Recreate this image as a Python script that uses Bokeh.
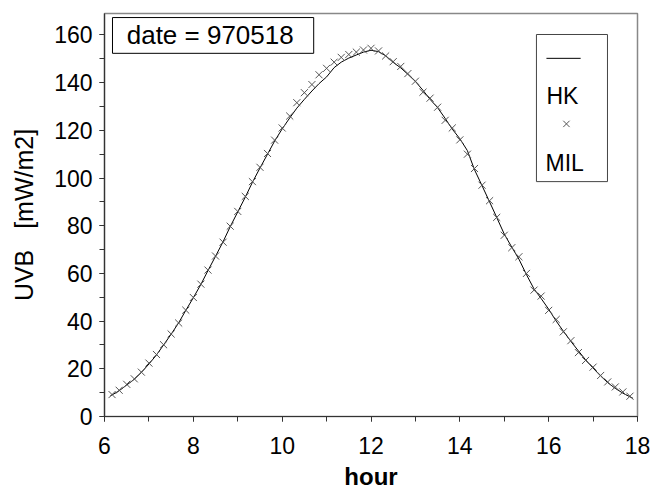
from bokeh.plotting import figure
from bokeh.models import Range1d, SingleIntervalTicker, Label
from bokeh.embed import file_html
from bokeh.resources import INLINE

# ---- data ----
mil_hour = [6.17, 6.33, 6.50, 6.67, 6.83, 7.00, 7.17, 7.33, 7.50, 7.67, 7.83, 8.00,
            8.17, 8.33, 8.50, 8.67, 8.83, 9.00, 9.17, 9.33, 9.50, 9.67, 9.83, 10.00,
            10.17, 10.33, 10.50, 10.67, 10.83, 11.00, 11.17, 11.33, 11.50, 11.67, 11.83, 12.00,
            12.17, 12.33, 12.50, 12.67, 12.83, 13.00, 13.17, 13.33, 13.50, 13.67, 13.83, 14.00,
            14.17, 14.33, 14.50, 14.67, 14.83, 15.00, 15.17, 15.33, 15.50, 15.67, 15.83, 16.00,
            16.17, 16.33, 16.50, 16.67, 16.83, 17.00, 17.17, 17.33, 17.50, 17.67, 17.83]
mil_uvb = [9.2, 11.0, 13.5, 15.8, 18.6, 22.4, 26.0, 30.1, 34.6, 39.2, 44.6, 49.9,
           55.5, 61.4, 67.3, 73.1, 79.8, 86.0, 92.3, 98.5, 104.5, 110.3, 115.9, 121.0,
           126.0, 131.6, 135.8, 139.2, 143.3, 146.0, 148.6, 150.6, 151.8, 152.8, 153.7, 154.4,
           153.3, 151.2, 148.8, 146.8, 143.8, 140.6, 136.0, 133.5, 129.7, 124.2, 121.0, 116.0,
           110.0, 104.0, 97.0, 90.5, 83.5, 76.0, 70.8, 67.0, 60.0, 53.0, 50.5, 44.5,
           40.7, 35.5, 31.8, 26.8, 23.5, 20.7, 17.2, 14.5, 12.4, 10.3, 8.5]

hk_hour = [6.13, 6.33, 6.50, 6.67, 6.83, 7.00, 7.17, 7.33, 7.50, 7.67, 7.83, 8.00,
           8.17, 8.33, 8.50, 8.67, 8.83, 9.00, 9.17, 9.33, 9.50, 9.67, 9.83, 10.00,
           10.17, 10.33, 10.50, 10.67, 10.83, 11.00, 11.17, 11.33, 11.50, 11.67, 11.83, 12.00,
           12.17, 12.33, 12.50, 12.67, 12.83, 13.00, 13.17, 13.33, 13.50, 13.67, 13.83, 14.00,
           14.17, 14.33, 14.50, 14.67, 14.83, 15.00, 15.17, 15.33, 15.50, 15.67, 15.83, 16.00,
           16.17, 16.33, 16.50, 16.67, 16.83, 17.00, 17.17, 17.33, 17.50, 17.67, 17.90]
hk_uvb = [8.6, 10.8, 13.2, 15.6, 18.5, 22.0, 25.8, 30.0, 34.5, 39.3, 44.5, 49.8,
          55.4, 61.2, 67.2, 73.3, 79.6, 85.8, 92.0, 98.2, 104.2, 110.0, 115.5, 120.6,
          125.2, 129.3, 133.0, 136.5, 139.6, 142.4, 146.3, 148.6, 150.3, 151.6, 152.8, 153.6,
          153.0, 151.3, 148.5, 146.2, 143.5, 140.5, 136.8, 133.0, 129.5, 125.0, 120.5, 116.5,
          111.5, 103.5, 96.8, 90.0, 83.5, 76.5, 71.0, 66.0, 59.5, 53.5, 49.5, 45.0,
          40.0, 35.8, 31.5, 27.5, 23.8, 20.3, 17.0, 14.2, 11.8, 9.8, 7.6]

title_text = "date = 970518"
x_label = "hour"
y_label = "UVB\u00a0\u00a0\u00a0[mW/m2]"
legend_labels = ["HK", "MIL"]

FONT = "Liberation Sans"

p = figure(width=655, height=492, output_backend="svg", toolbar_location=None,
           x_range=Range1d(6, 18), y_range=Range1d(0, 169),
           min_border_left=104, min_border_right=18, min_border_top=13, min_border_bottom=74)

p.background_fill_color = "white"
p.border_fill_color = "white"
p.outline_line_color = "#888888"
p.outline_line_width = 1.5
p.xgrid.visible = False
p.ygrid.visible = False

# axes
p.xaxis.ticker = SingleIntervalTicker(interval=2, num_minor_ticks=2)
p.yaxis.ticker = SingleIntervalTicker(interval=20, num_minor_ticks=2)
for ax in (p.xaxis, p.yaxis):
    ax.axis_line_color = "#333333"
    ax.axis_line_width = 1.2
    ax.major_tick_line_color = "#333333"
    ax.minor_tick_line_color = "#333333"
    ax.major_tick_in = 0
    ax.major_tick_out = 5
    ax.minor_tick_in = 0
    ax.minor_tick_out = 5
    ax.major_label_text_font = FONT
    ax.major_label_text_font_size = "23px"
    ax.major_label_text_color = "black"
    ax.axis_label_text_font = FONT
    ax.axis_label_text_color = "black"
    ax.axis_label_text_font_style = "normal"

p.xaxis.major_label_standoff = 15
p.xaxis.axis_label = x_label
p.xaxis.axis_label_text_font_style = "bold"
p.xaxis.axis_label_text_font_size = "24px"
p.xaxis.axis_label_standoff = 6

p.yaxis.major_label_standoff = 7
p.yaxis.axis_label = y_label
p.yaxis.axis_label_text_font_size = "25px"
p.yaxis.axis_label_standoff = 13

# data
p.line(hk_hour, hk_uvb, line_color="black", line_width=1)
p.scatter(mil_hour, mil_uvb, marker="x", size=10, line_color="#555555", line_width=1)

# title box (data coordinates of the decoration)
p.quad(left=[6.18], right=[10.71], bottom=[152.3], top=[167.3],
       fill_color="white", line_color="black", line_width=1)
p.add_layout(Label(x=6.50, y=159.8, text=title_text, text_font=FONT,
                   text_font_size="26px", text_baseline="middle", text_align="left",
                   text_color="black"))

# legend (manual, glyph above label as in the reference)
p.quad(left=[15.725], right=[17.324], bottom=[98.5], top=[160.2],
       fill_color="white", line_color="#444444", line_width=1)
p.line([15.95, 16.72], [150.2, 150.2], line_color="black", line_width=1)
p.scatter([16.40], [122.7], marker="x", size=9, line_color="#555555", line_width=1)
p.add_layout(Label(x=15.95, y=134.4, text=legend_labels[0], text_font=FONT,
                   text_font_size="23px", text_baseline="middle", text_align="left",
                   text_color="black"))
p.add_layout(Label(x=15.93, y=106.4, text=legend_labels[1], text_font=FONT,
                   text_font_size="23px", text_baseline="middle", text_align="left",
                   text_color="black"))

open("out.html", "w").write(file_html(p, INLINE))
